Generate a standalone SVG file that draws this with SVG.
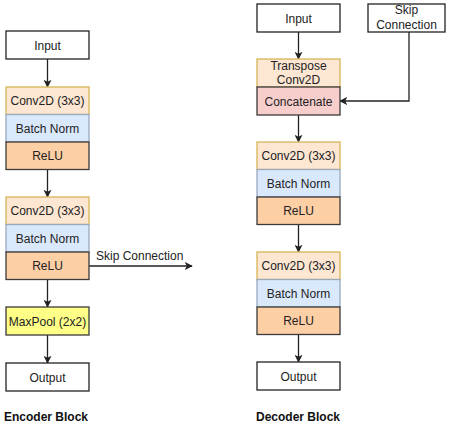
<svg xmlns="http://www.w3.org/2000/svg" width="454" height="425" viewBox="0 0 454 425">
<defs>
<style>
text{font-family:"Liberation Sans",Arial,sans-serif;font-size:12px;fill:#222;text-anchor:middle}
.title{font-weight:bold;text-anchor:start;fill:#111}
.lbl{text-anchor:start}
.plain{fill:#fff;stroke:#222;stroke-width:1.3}
.conv{fill:#fde6d2;stroke:#d6b656;stroke-width:1.3}
.bn{fill:#dae8fc;stroke:#9aa9bd;stroke-width:1.3}
.relu{fill:#fdcfa5;stroke:#3a3a3a;stroke-width:1.3}
.cat{fill:#f8cecc;stroke:#3a3a3a;stroke-width:1.3}
.pool{fill:#ffff88;stroke:#3a3a3a;stroke-width:1.3}
.edge{fill:none;stroke:#222;stroke-width:1.3}
</style>
<marker id="arr" viewBox="0 0 10 10" refX="9" refY="5" markerWidth="8" markerHeight="8" markerUnits="userSpaceOnUse" orient="auto">
<path d="M0,0 L10,5 L0,10 L2.5,5 Z" fill="#222"/>
</marker>
</defs>

<g id="connectors">
<path class="edge" d="M47.5,59 V87" marker-end="url(#arr)"/>
<path class="edge" d="M47.5,169.5 V197" marker-end="url(#arr)"/>
<path class="edge" d="M47.5,279.5 V307" marker-end="url(#arr)"/>
<path class="edge" d="M47.5,335 V363" marker-end="url(#arr)"/>
<path class="edge" d="M89,266 H192" marker-end="url(#arr)"/>
<path class="edge" d="M298.5,32 V59" marker-end="url(#arr)"/>
<path class="edge" d="M409,32 V101 H340" marker-end="url(#arr)"/>
<path class="edge" d="M298.5,115 V142" marker-end="url(#arr)"/>
<path class="edge" d="M298.5,224.5 V252" marker-end="url(#arr)"/>
<path class="edge" d="M298.5,334.5 V362" marker-end="url(#arr)"/>
</g>
<text class="lbl" x="96" y="260">Skip Connection</text>

<g id="enc-input"><rect class="plain" x="6" y="31" width="83" height="28"/><text x="47.5" y="49.5">Input</text></g>
<g id="enc-conv1"><rect class="conv" x="6" y="87" width="83" height="27.5"/><text x="47.5" y="105">Conv2D (3x3)</text></g>
<g id="enc-bn1"><rect class="bn" x="6" y="114.5" width="83" height="27.5"/><text x="47.5" y="132.5">Batch Norm</text></g>
<g id="enc-relu1"><rect class="relu" x="6" y="142" width="83" height="27.5"/><text x="47.5" y="160">ReLU</text></g>
<g id="enc-conv2"><rect class="conv" x="6" y="197" width="83" height="27.5"/><text x="47.5" y="215">Conv2D (3x3)</text></g>
<g id="enc-bn2"><rect class="bn" x="6" y="224.5" width="83" height="27.5"/><text x="47.5" y="242.5">Batch Norm</text></g>
<g id="enc-relu2"><rect class="relu" x="6" y="252" width="83" height="27.5"/><text x="47.5" y="270">ReLU</text></g>
<g id="enc-pool"><rect class="pool" x="6" y="307" width="83" height="28"/><text x="47.5" y="325.5">MaxPool (2x2)</text></g>
<g id="enc-output"><rect class="plain" x="6" y="363" width="83" height="28"/><text x="47.5" y="381.5">Output</text></g>
<text class="title" x="4" y="421">Encoder Block</text>

<g id="dec-input"><rect class="plain" x="257" y="4" width="83" height="28"/><text x="298.5" y="22.5">Input</text></g>
<g id="dec-skip"><rect class="plain" x="368" y="4" width="77" height="28"/><text x="406.5" y="14">Skip</text><text x="406.5" y="28.5">Connection</text></g>
<g id="dec-transpose"><rect class="conv" x="257" y="59" width="83" height="28"/><text x="298.5" y="70">Transpose</text><text x="298.5" y="84">Conv2D</text></g>
<g id="dec-concat"><rect class="cat" x="257" y="87" width="83" height="28"/><text x="298.5" y="105.5">Concatenate</text></g>
<g id="dec-conv1"><rect class="conv" x="257" y="142" width="83" height="27.5"/><text x="298.5" y="160">Conv2D (3x3)</text></g>
<g id="dec-bn1"><rect class="bn" x="257" y="169.5" width="83" height="27.5"/><text x="298.5" y="187.5">Batch Norm</text></g>
<g id="dec-relu1"><rect class="relu" x="257" y="197" width="83" height="27.5"/><text x="298.5" y="215">ReLU</text></g>
<g id="dec-conv2"><rect class="conv" x="257" y="252" width="83" height="27.5"/><text x="298.5" y="270">Conv2D (3x3)</text></g>
<g id="dec-bn2"><rect class="bn" x="257" y="279.5" width="83" height="27.5"/><text x="298.5" y="297.5">Batch Norm</text></g>
<g id="dec-relu2"><rect class="relu" x="257" y="307" width="83" height="27.5"/><text x="298.5" y="325">ReLU</text></g>
<g id="dec-output"><rect class="plain" x="257" y="362" width="83" height="28"/><text x="298.5" y="380.5">Output</text></g>
<text class="title" x="256" y="421">Decoder Block</text>
</svg>
